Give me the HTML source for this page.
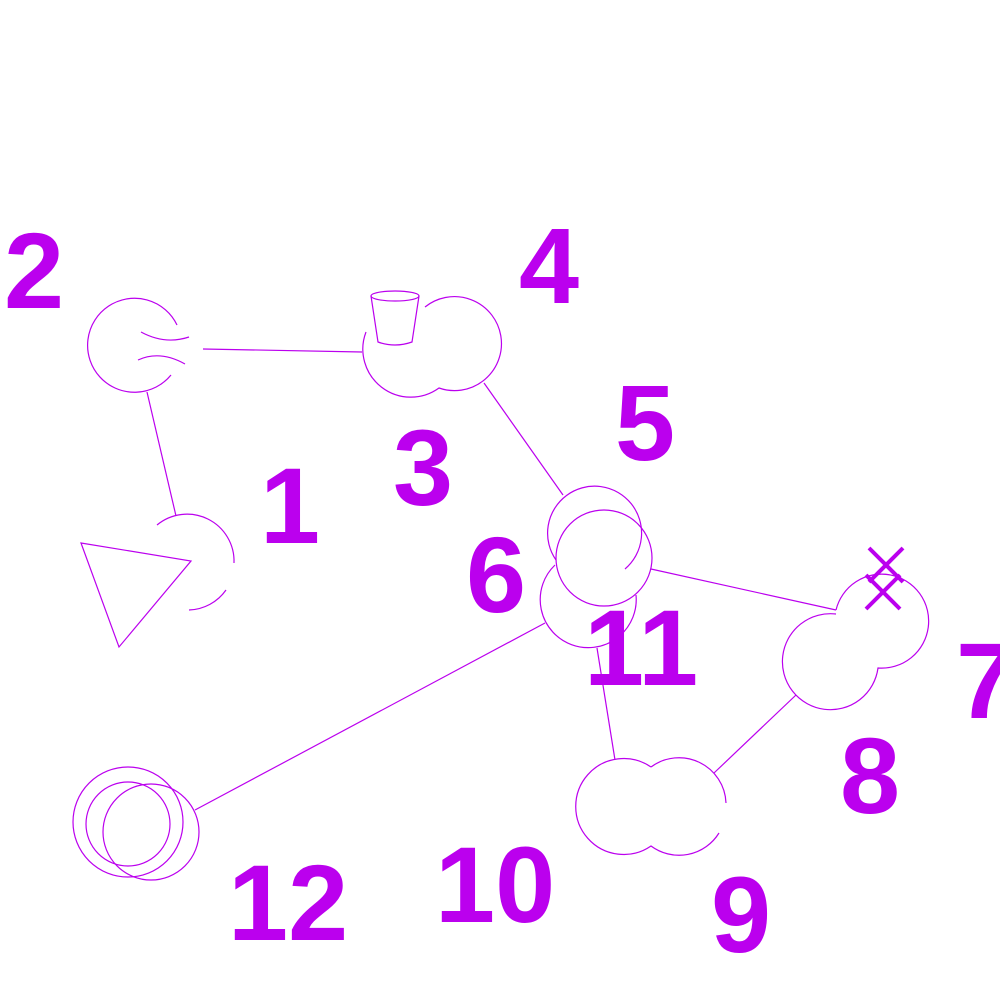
<!DOCTYPE html>
<html><head><meta charset="utf-8"><style>
html,body{margin:0;padding:0;background:#fff;width:1000px;height:1000px;overflow:hidden}
svg{display:block}
text{font-family:"Liberation Sans",sans-serif;font-weight:bold;font-size:108px;fill:#bb00ee}
.s{fill:none;stroke:#bb00ee;stroke-width:1.2}
</style></head><body>
<svg width="1000" height="1000" viewBox="0 0 1000 1000">
<g class="s">
<line x1="203" y1="349" x2="362" y2="352"/>
<line x1="147" y1="392" x2="176" y2="516"/>
<line x1="484" y1="383" x2="563" y2="495"/>
<line x1="651" y1="569" x2="836" y2="610"/>
<line x1="796" y1="695" x2="714" y2="773"/>
<line x1="597" y1="648" x2="615" y2="760"/>
<line x1="545" y1="623" x2="195" y2="810"/>
</g>
<g class="s">
<path d="M177,325 A47,47 0 1 0 171,375"/>
<path d="M141,332 Q165,345 189,337"/>
<path d="M138,360 Q160,350 185,364"/>
</g>
<g class="s">
<path d="M157,525 A47,47 0 0 1 234,563"/>
<path d="M226,590 A47,47 0 0 1 189,610"/>
<polygon points="81,543 191,561 119,647"/>
</g>
<g class="s">
<path d="M366,332 A48,48 0 0 0 439,388 A47,47 0 1 0 425,307"/>
<path d="M371,296 L378,342 Q395,348 412,342 L419,296"/>
<ellipse cx="395" cy="296" rx="24" ry="5"/>
</g>
<g class="s">
<path d="M625,569 A47,47 0 1 0 556,560"/>
<circle cx="604" cy="558" r="48"/>
<path d="M555,565 A48,48 0 1 0 636,595"/>
</g>
<g class="s">
<path d="M836,610 A47,47 0 1 1 878,668 A48,48 0 1 1 836,614"/>
<g stroke-width="4">
<line x1="869" y1="548" x2="903" y2="582"/><line x1="903" y1="548" x2="869" y2="582"/>
<line x1="866" y1="575" x2="900" y2="609"/><line x1="900" y1="575" x2="866" y2="609"/>
</g>
</g>
<g class="s">
<path d="M651,767 A48,48 0 1 0 651,846 A47,47 0 0 0 719,833"/>
<path d="M651,767 A47,47 0 0 1 726,803"/>
</g>
<g class="s">
<circle cx="128" cy="822" r="55"/>
<circle cx="128" cy="824" r="42"/>
<circle cx="151" cy="832" r="48"/>
</g>
<g>
<text x="4" y="308">2</text>
<text x="519" y="303">4</text>
<text x="393" y="505">3</text>
<text x="260" y="543">1</text>
<text x="615" y="460">5</text>
<text x="466" y="612">6</text>
<text x="584" y="685">11</text>
<text x="956" y="718">7</text>
<text x="840" y="813">8</text>
<text x="228" y="940">12</text>
<text x="435" y="922">10</text>
<text x="711" y="952">9</text>
</g>
</svg>
</body></html>
